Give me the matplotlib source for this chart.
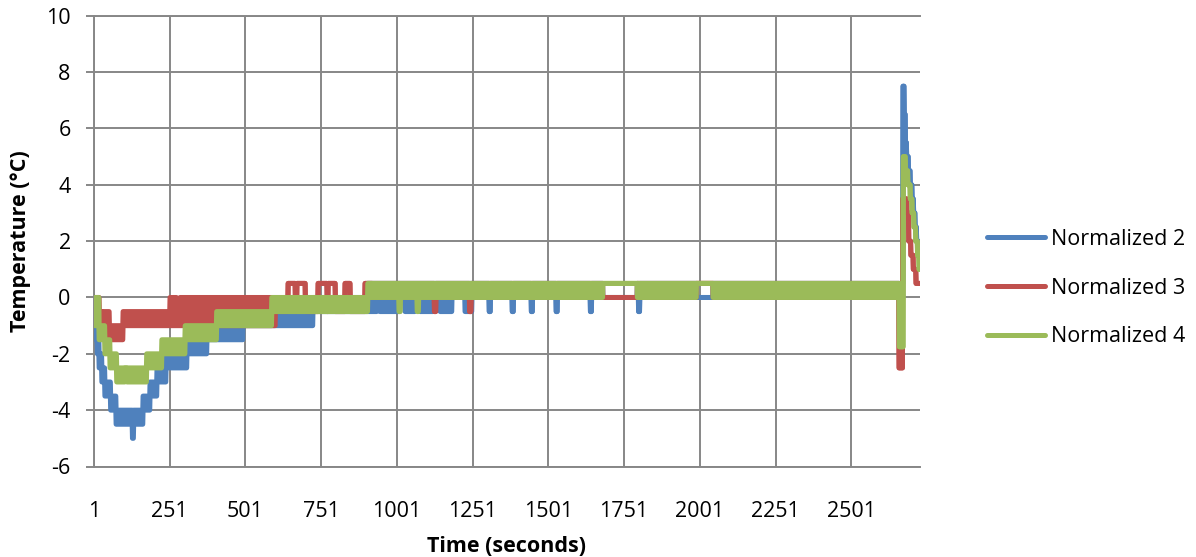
import numpy as np
import matplotlib
matplotlib.use("Agg")
import matplotlib.pyplot as plt
from matplotlib.lines import Line2D

plt.rcParams["font.family"] = ["Open Sans", "DejaVu Sans"]
plt.rcParams["axes.unicode_minus"] = False

# Sample count (one reading per second)
N = 2728

# Readings are 0.5 degC steps that jitter between two neighbouring levels,
# so each series is stored as runs: a run starts at *_from and lasts until
# the next start, and the reading swings between *_lo and *_hi inside it.
n2_from = [1, 4, 8, 12, 18, 27, 37, 56, 74, 128, 132, 163, 186, 209, 239,
           308, 374, 493, 724, 903, 935, 945, 1011, 1028, 1061, 1078, 1121,
           1144, 1183, 1226, 1249, 1681, 1795, 1990, 2045,
           2672, 2676, 2680, 2684, 2690, 2696, 2702, 2707, 2712, 2717, 2723]
n2_lo = [0, -1, -1.5, -2, -2.5, -3, -3.5, -4, -4.5, -5, -4.5, -4, -3.5, -3,
         -2.5, -2, -1.5, -1, -0.5, -0.5, 0, -0.5, 0, -0.5, 0, -0.5, 0,
         -0.5, 0, -0.5, 0, 0, 0, 0, 0,
         7.5, 6.5, 5.5, 5, 4.5, 4, 3.5, 3, 2.5, 2, 1.5]
n2_hi = [0, -0.5, -1, -1.5, -2, -2.5, -3, -3.5, -4, -4.5, -4, -3.5, -3,
         -2.5, -2, -1.5, -1, -0.5, 0, 0.5, 0.5, 0.5, 0.5, 0.5, 0.5, 0.5,
         0.5, 0.5, 0.5, 0.5, 0.5, 0, 0.5, 0, 0.5,
         7.5, 6.5, 5.5, 5, 4.5, 4, 3.5, 3, 2.5, 2, 1.5]

n3_from = [1, 18, 30, 52, 97, 285, 600, 920, 1681, 1795, 1990, 2045,
           2659, 2671, 2685, 2691, 2698, 2706, 2715]
n3_lo = [0, -0.5, -1, -1.5, -1, -1, -0.5, 0, 0, 0, 0.5, 0,
         -2.5, 3.5, 3, 2, 1.5, 1, 0.5]
n3_hi = [0, -0.5, -0.5, -1, -0.5, 0, 0, 0.5, 0, 0.5, 0.5, 0.5,
         -2.5, 3.5, 3, 2, 1.5, 1, 0.5]

n4_from = [1, 4, 18, 37, 54, 76, 103, 110, 175, 225, 302, 406, 588, 905,
           1681, 1795, 1990, 2045,
           2660, 2673, 2680, 2688, 2696, 2702, 2708, 2714, 2720, 2725]
n4_lo = [0, -1, -1.5, -2, -2.5, -3, -2.5, -3, -2.5, -2, -1.5, -1, -0.5, 0,
         0.5, 0, 0.5, 0,
         -1.75, 5, 4.5, 4, 3.5, 3, 2.5, 2, 1.5, 1]
n4_hi = [0, 0, -1, -1.5, -2, -2.5, -2.5, -2.5, -2, -1.5, -1, -0.5, 0, 0.5,
         0.5, 0.5, 0.5, 0.5,
         -1.75, 5, 4.5, 4, 3.5, 3, 2.5, 2, 1.5, 1]

# Short excursions on top of the runs: (first, last, lo, hi)
n2_spikes = [(1306, 1309, -0.5, -0.5), (1382, 1385, -0.5, -0.5),
             (1445, 1448, -0.5, -0.5), (1527, 1530, -0.5, -0.5),
             (1640, 1643, -0.5, -0.5), (1799, 1802, -0.5, -0.5)]
n3_spikes = [(252, 256, -1, 0), (262, 265, -1, 0), (270, 273, -1, 0),
             (642, 665, 0.5, 0.5), (671, 698, 0.5, 0.5),
             (741, 770, 0.5, 0.5), (774, 797, 0.5, 0.5),
             (830, 846, 0.5, 0.5), (896, 919, 0.5, 0.5),
             (1125, 1129, -0.5, -0.5), (1241, 1245, -0.5, -0.5)]
n4_spikes = [(1008, 1012, -0.5, 0.5), (1068, 1072, -0.5, 0.5)]

series_names = ["Normalized 2", "Normalized 3", "Normalized 4"]
series_colors = ["#4F81BD", "#C0504D", "#9BBB59"]

x_ticks = list(range(1, N, 250))
y_ticks = list(range(-6, 11, 2))


def expand(starts, lo, hi, spikes):
    lo_arr = np.zeros(N)
    hi_arr = np.zeros(N)
    bounds = list(starts) + [N + 1]
    for i in range(len(starts)):
        lo_arr[bounds[i] - 1:bounds[i + 1] - 1] = lo[i]
        hi_arr[bounds[i] - 1:bounds[i + 1] - 1] = hi[i]
    for a, b, l, h in spikes:
        lo_arr[a - 1:b] = l
        hi_arr[a - 1:b] = h
    return lo_arr, hi_arr


t = np.arange(1, N + 1)
runs = [
    expand(n2_from, n2_lo, n2_hi, n2_spikes),
    expand(n3_from, n3_lo, n3_hi, n3_spikes),
    expand(n4_from, n4_lo, n4_hi, n4_spikes),
]

W, H = 1196, 557
fig = plt.figure(figsize=(W / 100, H / 100), dpi=100)
ax = fig.add_axes([94 / W, 1 - 466.5 / H, (920 - 94) / W, (466.5 - 15.8) / H])

grid_c = "#878787"
lw = 3.6
fs = 15.5
for k, ((lo, hi), c) in enumerate(zip(runs, series_colors)):
    z = 3 + k
    ax.fill_between(t, lo, hi, color=c, lw=0, zorder=z)
    for arr in (lo, hi):
        ax.plot(t, arr, color=c, lw=lw, solid_joinstyle="round",
                solid_capstyle="round", zorder=z)

ax.set_xlim(1, N)
ax.set_ylim(-6, 10)
ax.set_xticks(x_ticks)
ax.set_yticks(y_ticks)
ax.grid(True, color=grid_c, lw=1.4, zorder=0)
ax.set_axisbelow(True)
for side in ("left", "bottom", "top"):
    ax.spines[side].set_color(grid_c)
    ax.spines[side].set_linewidth(1.4)
ax.spines["right"].set_visible(False)

ax.tick_params(axis="y", direction="out", length=5.8, width=1.4,
               color=grid_c, pad=11, labelsize=fs)
ax.tick_params(axis="x", length=0, pad=25, labelsize=fs)

ax.set_xlabel("Time (seconds)", fontsize=fs, fontweight="bold", labelpad=10)
ax.set_ylabel("Temperature (\u00b0C)", fontsize=fs, fontweight="bold",
              labelpad=11)

handles = [Line2D([], [], color=c, lw=lw, solid_capstyle="round")
           for c in series_colors]
fig.legend(handles, series_names, loc="center left",
           bbox_to_anchor=(987 / W, 1 - 288 / H), frameon=False,
           fontsize=fs, handlelength=2.7, handletextpad=0.25,
           labelspacing=1.3, borderpad=0, borderaxespad=0)

fig.savefig("out.png", dpi=100)
